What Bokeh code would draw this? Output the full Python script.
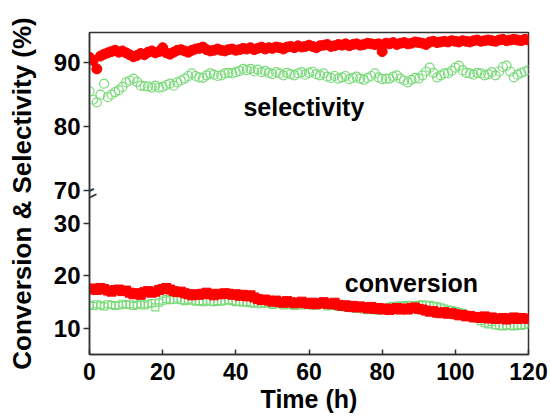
from bokeh.plotting import figure
from bokeh.models import Range1d, FixedTicker, Label
from bokeh.embed import file_html
from bokeh.resources import INLINE

# ---------------- data ----------------
time_h = list(range(0, 121))

sel_red = [
    90.8, 90.3, 89.0, 91.0, 91.3, 91.5, 91.7, 91.9, 91.6, 91.8,
    91.5, 91.2, 90.9, 91.1, 91.4, 91.2, 91.6, 91.8, 91.5, 91.7,
    92.3, 91.5, 91.3, 91.6, 91.9, 92.0, 91.8, 91.6, 91.9, 92.1,
    92.2, 92.4, 92.0, 91.8, 91.9, 92.1, 91.9, 91.8, 92.0, 92.1,
    91.9, 92.0, 92.2, 92.1, 92.3, 92.0, 92.2, 92.4, 92.1, 92.3,
    92.2, 92.4, 92.3, 92.1, 92.4, 92.5, 92.3, 92.6, 92.4, 92.5,
    92.7, 92.5, 92.3, 92.6, 92.7, 92.8, 92.5, 92.6, 92.8, 92.7,
    92.9, 92.6, 92.8, 92.9, 92.7, 92.8, 93.0, 92.9, 92.8, 92.9,
    91.7, 93.0, 92.9, 93.1, 92.8, 93.0, 93.1, 92.9, 93.0, 93.2,
    93.1, 93.0, 92.8, 93.2, 93.3, 93.1, 93.2, 93.3, 93.2, 93.4,
    93.3, 93.2, 93.4, 93.3, 93.2, 93.4, 93.5, 93.3, 93.4, 93.5,
    93.4, 93.3, 93.5, 93.6, 93.4, 93.5, 93.6, 93.5, 93.4, 93.6, 93.5,
]

sel_green = [
    85.5, 84.2, 83.8, 85.0, 86.7, 84.6, 85.0, 85.4, 85.7, 86.2,
    86.9, 87.2, 87.5, 87.0, 86.4, 86.3, 86.3, 86.1, 86.4, 86.1,
    86.2, 86.5, 86.7, 86.4, 86.9, 87.2, 87.5, 87.9, 88.3, 87.9,
    87.7, 87.6, 88.0, 88.3, 88.1, 87.9, 88.0, 88.3, 88.4, 88.3,
    88.5, 88.7, 89.0, 88.8, 89.0, 88.6, 88.9, 88.5, 88.7, 88.4,
    88.2, 88.5, 88.3, 88.0, 88.4, 88.2, 88.0, 88.3, 88.5, 88.1,
    88.4, 88.6, 88.2, 88.0, 88.3, 87.8, 87.6, 87.9, 87.5, 87.7,
    87.9, 87.4, 87.6, 87.8, 87.5, 87.3, 87.6, 87.9, 88.3, 87.7,
    87.4, 87.5, 87.5, 87.8, 88.0, 87.5, 87.2, 86.9, 87.3, 87.6,
    87.5, 88.0, 88.6, 89.2, 88.4, 87.7, 88.0, 88.3, 88.3, 88.7,
    89.2, 89.5, 88.8, 88.4, 88.3, 88.1, 88.4, 88.3, 88.0, 88.2,
    88.5, 88.0, 88.6, 89.3, 89.5, 88.6, 87.7, 88.1, 88.4, 88.6, 88.8,
]

conv_red = [
    17.4, 17.6, 17.3, 17.7, 17.5, 17.2, 17.0, 17.3, 17.4, 17.1,
    17.2, 16.8, 16.5, 16.7, 16.4, 16.9, 17.1, 16.8, 17.0, 17.3,
    17.5, 17.7, 17.4, 17.1, 16.9, 17.0, 16.7, 16.5, 16.3, 16.5,
    16.4, 16.6, 16.8, 16.5, 16.3, 16.6, 16.5, 16.7, 16.6, 16.4,
    16.5, 16.2, 16.4, 16.1, 16.3, 15.9, 15.6, 15.4, 15.5, 15.3,
    15.1, 15.3, 15.0, 14.9, 15.2, 15.0, 14.8, 14.9, 15.1, 14.8,
    14.7, 14.9, 14.6, 14.8, 15.0, 14.7, 14.6, 14.9, 14.5, 14.3,
    14.4, 14.1, 14.3, 14.0, 14.2, 14.0, 13.8, 14.1, 13.7, 13.9,
    13.6, 13.8, 13.5, 13.7, 13.9, 13.6, 13.8, 13.6, 13.9, 14.0,
    13.7, 13.6, 13.4, 13.2, 13.3, 13.0, 12.9, 13.1, 12.8, 12.9,
    12.7, 12.5, 12.6, 12.3, 12.4, 12.1, 12.2, 12.0, 12.3, 11.9,
    12.1, 11.8, 11.9, 12.0, 11.7, 11.9, 12.1, 11.8, 12.0, 11.9, 11.8,
]

conv_green = [
    14.5, 14.3, 14.6, 14.4, 14.2, 14.6, 14.5, 14.3, 14.4, 14.7,
    14.5, 14.6, 14.3, 14.5, 14.7, 14.4, 14.6, 14.8, 14.0, 14.9,
    15.3, 15.6, 15.4, 15.5, 15.7, 15.4, 15.2, 15.5, 15.3, 15.1,
    15.2, 15.0, 15.3, 15.1, 15.0, 15.2, 15.1, 15.3, 15.4, 15.2,
    15.0, 15.1, 14.9, 15.0, 14.8, 14.7, 14.9, 14.6, 14.8, 14.7,
    14.5, 14.7, 14.6, 14.4, 14.6, 14.5, 14.3, 14.5, 14.4, 14.6,
    14.5, 14.3, 14.4, 14.6, 14.5, 14.2, 14.4, 14.3, 14.1, 14.2,
    14.0, 13.9, 13.8, 13.7, 13.9, 13.6, 13.5, 13.7, 13.5, 13.4,
    13.6, 13.9, 14.1, 14.3, 14.2, 14.4, 14.3, 14.5, 14.4, 14.3,
    14.5, 14.6, 14.4, 14.5, 14.3, 14.2, 14.0, 13.8, 13.6, 13.5,
    13.3, 13.1, 12.9, 12.6, 12.4, 12.2, 11.8, 11.4, 11.0, 10.8,
    11.2, 10.6, 10.5, 10.4, 10.6, 10.5, 10.4, 10.6, 10.5, 10.7, 10.9,
]

x_ticks = [0, 20, 40, 60, 80, 100, 120]
conv_ticks = [10, 20, 30]
sel_ticks = [70, 80, 90]

# broken axis: lower segment (conversion) and upper segment (selectivity)
CONV_LO, CONV_HI = 5.06, 66.22
SEL_LO, SEL_HI = 44.55, 94.67


def sel_to_conv(v):
    return round(CONV_LO + (v - SEL_LO) * (CONV_HI - CONV_LO) / (SEL_HI - SEL_LO), 6)


# ---------------- styling ----------------
FONT = "Liberation Sans"
RED = "#FF0000"
GREEN = "#7ADA7A"
AX = "#333333"

p = figure(
    width=550, height=419,
    output_backend="svg", toolbar_location=None,
    x_range=Range1d(0, 120), y_range=Range1d(CONV_LO, CONV_HI),
    min_border_left=89, min_border_right=22,
    min_border_top=32, min_border_bottom=65,
)
p.extra_y_ranges = {"sel": Range1d(SEL_LO, SEL_HI)}
p.xgrid.visible = False
p.ygrid.visible = False
p.outline_line_color = AX
p.outline_line_width = 1.5
p.outline_line_alpha = 1.0
p.background_fill_color = "white"
p.border_fill_color = "white"


def style_axis(ax, size):
    ax.axis_line_color = AX
    ax.axis_line_width = 1.5
    ax.major_tick_line_color = AX
    ax.major_tick_line_width = 1.5
    ax.minor_tick_line_color = None
    ax.major_label_text_font = FONT
    ax.major_label_text_font_style = "bold"
    ax.major_label_text_font_size = size
    ax.major_label_text_color = "black"
    ax.axis_label_text_font = FONT
    ax.axis_label_text_font_style = "bold"
    ax.axis_label_text_color = "black"


xa = p.xaxis[0]
xa.ticker = FixedTicker(ticks=x_ticks)
style_axis(xa, "23px")
xa.major_tick_in = 5
xa.major_tick_out = 0
xa.major_label_standoff = 8
xa.axis_label = "Time (h)"
xa.axis_label_text_font_size = "25px"
xa.axis_label_standoff = 2

ya = p.yaxis[0]
sel_pos = [sel_to_conv(v) for v in sel_ticks]
ya.ticker = FixedTicker(ticks=conv_ticks + sel_pos)
ya.major_label_overrides = {pos: str(v) for pos, v in zip(sel_pos, sel_ticks)}
style_axis(ya, "24px")
ya.major_tick_in = 0
ya.major_tick_out = 6
ya.major_label_standoff = 3
ya.axis_label = "Conversion & Selectivity (%)"
ya.axis_label_text_font_size = "26px"
ya.axis_label_standoff = 14

# ---------------- data marks ----------------
p.scatter(time_h, sel_green, y_range_name="sel", marker="circle", size=9,
          fill_color=None, line_color=GREEN, line_width=1.2)
p.scatter(time_h, sel_red, y_range_name="sel", marker="circle", size=10,
          fill_color=RED, line_color=RED)
p.scatter(time_h, conv_green, marker="square", size=7,
          fill_color=None, line_color=GREEN, line_width=1.2)
p.scatter(time_h, conv_red, marker="square", size=9,
          fill_color=RED, line_color=RED)

# ---------------- annotations ----------------
p.add_layout(Label(x=58.6, y=83.1, y_range_name="sel", text="selectivity",
                   text_align="center", text_baseline="alphabetic",
                   text_font=FONT, text_font_style="bold", text_font_size="25px",
                   text_color="black"))
p.add_layout(Label(x=88.0, y=18.7, text="conversion",
                   text_align="center", text_baseline="alphabetic",
                   text_font=FONT, text_font_style="bold", text_font_size="25px",
                   text_color="black"))
# axis-break mark
p.add_layout(Label(x=0, y=69.6, y_range_name="sel", text="=", angle=0.45,
                   text_align="center", text_baseline="middle",
                   text_font=FONT, text_font_size="24px", text_color=AX))

open("out.html", "w").write(file_html(p, INLINE))
